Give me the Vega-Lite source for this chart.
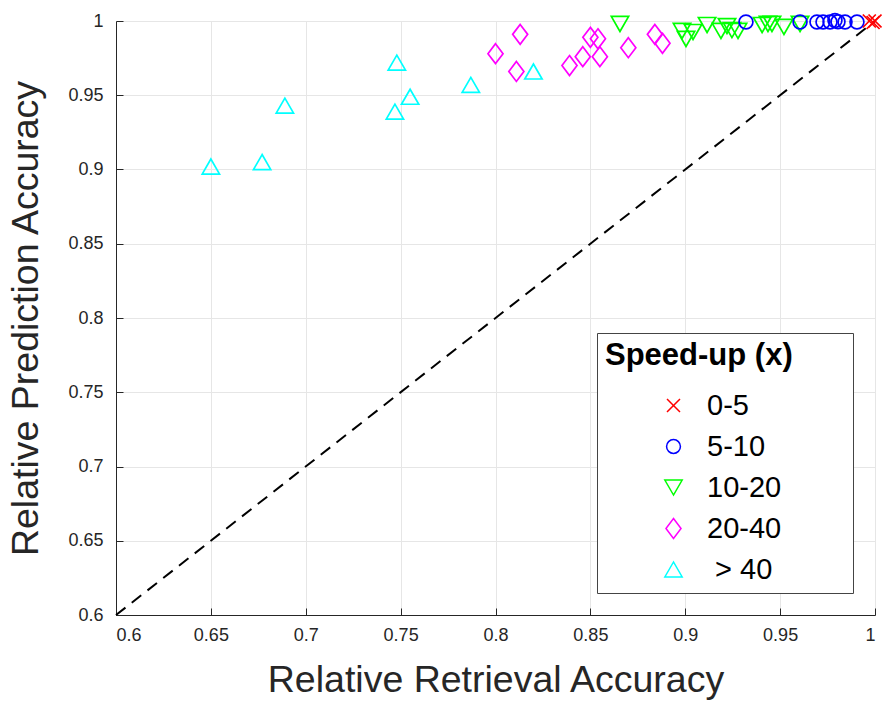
{
  "$schema": "https://vega.github.io/schema/vega-lite/v6.json",
  "width": 759,
  "height": 594,
  "autosize": {"type": "none"},
  "padding": {"left": 116, "top": 21, "right": 7, "bottom": 88},
  "background": "white",
  "config": {
    "view": {"stroke": null},
    "font": "Liberation Sans",
    "axis": {
      "labelFont": "Liberation Sans",
      "labelFontSize": 18,
      "labelColor": "#262626",
      "domainColor": "#262626",
      "domainWidth": 1,
      "tickColor": "#262626",
      "tickSize": -7,
      "labelPadding": 20,
      "gridColor": "#e6e6e6",
      "gridWidth": 1,
      "titleFont": "Liberation Sans",
      "titleFontSize": 37.5,
      "titleFontWeight": "normal",
      "titleColor": "#262626",
      "format": "~g"
    },
    "legend": {
      "strokeColor": "#444444",
      "fillColor": "white",
      "padding": 8,
      "cornerRadius": 0,
      "titleFont": "Liberation Sans",
      "titleFontSize": 31,
      "titleFontWeight": "bold",
      "titleColor": "black",
      "titlePadding": 19,
      "titleLimit": 500,
      "labelFont": "Liberation Sans",
      "labelFontSize": 29,
      "labelColor": "black",
      "labelLimit": 300,
      "symbolSize": 300,
      "symbolStrokeWidth": 1.5,
      "symbolOffset": 54,
      "labelOffset": 19,
      "rowPadding": 11
    }
  },
  "datasets": {
    "diag": [{"x": 0.6, "y": 0.6}, {"x": 1.0, "y": 1.0}],
    "pts": [
      {"x": 0.650, "y": 0.902, "speedup": "> 40"},
      {"x": 0.677, "y": 0.905, "speedup": "> 40"},
      {"x": 0.689, "y": 0.943, "speedup": "> 40"},
      {"x": 0.748, "y": 0.972, "speedup": "> 40"},
      {"x": 0.747, "y": 0.939, "speedup": "> 40"},
      {"x": 0.755, "y": 0.949, "speedup": "> 40"},
      {"x": 0.787, "y": 0.957, "speedup": "> 40"},
      {"x": 0.820, "y": 0.966, "speedup": "> 40"},
      {"x": 0.800, "y": 0.978, "speedup": "20-40"},
      {"x": 0.813, "y": 0.991, "speedup": "20-40"},
      {"x": 0.811, "y": 0.966, "speedup": "20-40"},
      {"x": 0.839, "y": 0.970, "speedup": "20-40"},
      {"x": 0.846, "y": 0.976, "speedup": "20-40"},
      {"x": 0.850, "y": 0.989, "speedup": "20-40"},
      {"x": 0.854, "y": 0.988, "speedup": "20-40"},
      {"x": 0.855, "y": 0.976, "speedup": "20-40"},
      {"x": 0.870, "y": 0.982, "speedup": "20-40"},
      {"x": 0.884, "y": 0.991, "speedup": "20-40"},
      {"x": 0.888, "y": 0.985, "speedup": "20-40"},
      {"x": 0.8656, "y": 0.998, "speedup": "10-20"},
      {"x": 0.8983, "y": 0.9933, "speedup": "10-20"},
      {"x": 0.9004, "y": 0.9879, "speedup": "10-20"},
      {"x": 0.9041, "y": 0.9926, "speedup": "10-20"},
      {"x": 0.9115, "y": 0.9973, "speedup": "10-20"},
      {"x": 0.9188, "y": 0.9933, "speedup": "10-20"},
      {"x": 0.9220, "y": 0.9966, "speedup": "10-20"},
      {"x": 0.9246, "y": 0.9939, "speedup": "10-20"},
      {"x": 0.9278, "y": 0.9933, "speedup": "10-20"},
      {"x": 0.9405, "y": 0.9973, "speedup": "10-20"},
      {"x": 0.9436, "y": 0.998, "speedup": "10-20"},
      {"x": 0.9457, "y": 0.998, "speedup": "10-20"},
      {"x": 0.9520, "y": 0.996, "speedup": "10-20"},
      {"x": 0.9605, "y": 0.998, "speedup": "10-20"},
      {"x": 0.932, "y": 0.9993, "speedup": "5-10"},
      {"x": 0.9605, "y": 0.9993, "speedup": "5-10"},
      {"x": 0.9694, "y": 0.9993, "speedup": "5-10"},
      {"x": 0.9726, "y": 0.9993, "speedup": "5-10"},
      {"x": 0.9763, "y": 0.9993, "speedup": "5-10"},
      {"x": 0.9789, "y": 1.0003, "speedup": "5-10"},
      {"x": 0.9805, "y": 0.9995, "speedup": "5-10"},
      {"x": 0.9842, "y": 0.9993, "speedup": "5-10"},
      {"x": 0.9905, "y": 0.9993, "speedup": "5-10"},
      {"x": 0.997, "y": 1.0, "speedup": "0-5"},
      {"x": 0.999, "y": 0.999, "speedup": "0-5"},
      {"x": 1.0, "y": 1.0, "speedup": "0-5"}
    ]
  },
  "layer": [
    {
      "data": {"name": "diag"},
      "mark": {"type": "line", "color": "black", "strokeDash": [12, 8], "strokeWidth": 2},
      "encoding": {
        "x": {
          "field": "x", "type": "quantitative",
          "scale": {"domain": [0.6, 1], "nice": false, "zero": false},
          "axis": {"title": "Relative Retrieval Accuracy", "values": [0.6, 0.65, 0.7, 0.75, 0.8, 0.85, 0.9, 0.95, 1.0], "labelPadding": 18, "titlePadding": 17}
        },
        "y": {
          "field": "y", "type": "quantitative",
          "scale": {"domain": [0.6, 1], "nice": false, "zero": false},
          "axis": {"title": "Relative Prediction Accuracy", "values": [0.6, 0.65, 0.7, 0.75, 0.8, 0.85, 0.9, 0.95, 1.0], "labelPadding": 20, "titlePadding": 22}
        }
      }
    },
    {
      "data": {"name": "pts"},
      "mark": {"type": "point", "filled": false, "strokeWidth": 1.7, "opacity": 1},
      "encoding": {
        "x": {"field": "x", "type": "quantitative"},
        "y": {"field": "y", "type": "quantitative"},
        "color": {
          "field": "speedup", "type": "nominal",
          "scale": {"domain": ["0-5", "5-10", "10-20", "20-40", "> 40"], "range": ["#ff0000", "#0000ff", "#00ff00", "#ff00ff", "#00ffff"]},
          "legend": {"title": "Speed-up (x)\u00a0\u00a0\u00a0\u00a0\u00a0\u00a0\u200b", "orient": "none", "legendX": 481, "legendY": 312, "labelExpr": "datum.label == '> 40' ? '\u200b\u00a0> 40' : datum.label"}
        },
        "shape": {
          "field": "speedup", "type": "nominal",
          "scale": {"domain": ["0-5", "5-10", "10-20", "20-40", "> 40"], "range": ["M-0.75,-0.75L0.75,0.75M-0.75,0.75L0.75,-0.75", "M-0.8,0A0.8,0.8 0 1,0 0.8,0A0.8,0.8 0 1,0 -0.8,0Z", "triangle-down", "M0,-1.15L0.87,0L0,1.15L-0.87,0Z", "triangle-up"]},
          "legend": {"title": "Speed-up (x)\u00a0\u00a0\u00a0\u00a0\u00a0\u00a0\u200b", "orient": "none", "legendX": 481, "legendY": 312, "labelExpr": "datum.label == '> 40' ? '\u200b\u00a0> 40' : datum.label"}
        },
        "size": {"value": 300}
      }
    }
  ]
}
